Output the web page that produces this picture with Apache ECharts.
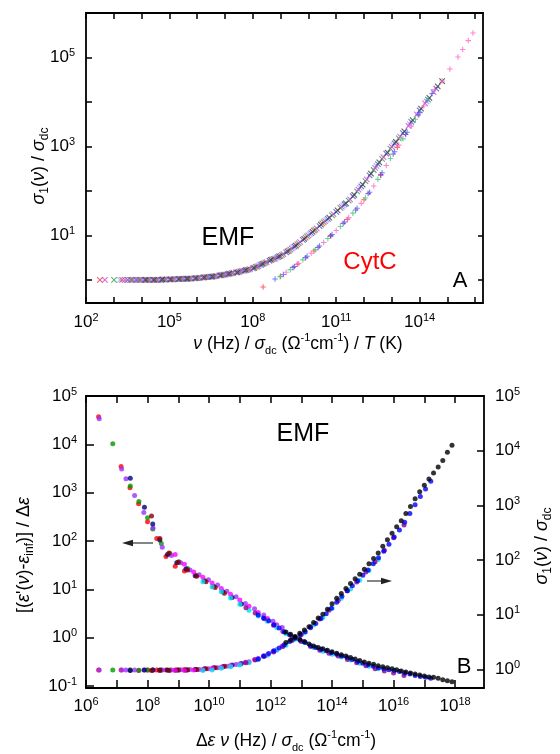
<!DOCTYPE html>
<html><head><meta charset="utf-8">
<script src="https://cdn.jsdelivr.net/npm/echarts@6/dist/echarts.min.js"></script>
<style>html,body{margin:0;padding:0;background:#fff}#c{width:560px;height:754px}</style>
</head><body><div id="c"></div>
<script>
// All values are log10 exponents.
// ---------- tick / label exponents ----------
const topXTicks = [2,3,4,5,6,7,8,9,10,11,12,13,14,15,16];
const topXLabels = [2,5,8,11,14];
const topYTicks = [0,1,2,3,4,5,6];
const topYLabels = [1,3,5];
const botXTicks = [6,7,8,9,10,11,12,13,14,15,16,17,18];
const botXLabels = [6,8,10,12,14,16,18];
const botLeftTicks = [-1,0,1,2,3,4,5];
const botRightTicks = [0,1,2,3,4,5];

// ---------- panel A : EMF (x markers) ----------
const emfRedX = [2.50,3.30,3.60,3.90,4.20,4.50,4.80,5.10,5.40,5.70,6.00,6.30,6.60,6.90,7.20,7.50,7.80,8.10,8.40,8.70,9.00,9.30,9.60,9.90,10.20,10.50];
const emfRedY = [0,0,0,0,0,0,0.005,0.01,0.02,0.03,0.04,0.06,0.08,0.11,0.14,0.18,0.23,0.29,0.37,0.46,0.54,0.66,0.80,0.95,1.11,1.27];
const emfMagX = [2.68,3.40,3.70,4.00,4.30,4.60,4.90,5.20,5.50,5.80,6.10,6.40,6.70,7.00,7.30,7.60,7.90,8.20,8.50,8.80,9.10,9.40,9.70,10.00,10.30,10.60,10.90,11.20,11.50,11.80,12.10,12.40,12.70,13.00,13.30,13.60,13.90,14.20,14.50];
const emfMagY = [0,0,0,0,0,0,0.01,0.015,0.02,0.03,0.045,0.065,0.09,0.12,0.16,0.20,0.24,0.31,0.40,0.48,0.58,0.71,0.85,1.00,1.16,1.32,1.48,1.64,1.81,2.03,2.26,2.52,2.76,2.99,3.22,3.46,3.72,3.97,4.22];
const emfBlueX = [3.50,3.80,4.10,4.40,4.70,5.00,5.30,5.60,5.90,6.20,6.50,6.80,7.10,7.40,7.70,8.00,8.30,8.60,8.90,9.20,9.50,9.80,10.10,10.40,10.70,11.00,11.30,11.60,11.90,12.20,12.50,12.80,13.10,13.40,13.70,14.00,14.30,14.60];
const emfBlueY = [0,0,0,0,0,0.01,0.015,0.025,0.035,0.05,0.07,0.10,0.13,0.17,0.21,0.26,0.34,0.43,0.51,0.62,0.75,0.90,1.05,1.21,1.37,1.53,1.70,1.88,2.10,2.35,2.60,2.84,3.07,3.30,3.55,3.81,4.05,4.30];
const emfGreenX = [3.01,3.65,3.95,4.25,4.55,4.85,5.15,5.45,5.75,6.05,6.35,6.65,6.95,7.25,7.55,7.85,8.15,8.45,8.75,9.05,9.35,9.65,9.95,10.25,10.55,10.85,11.15,11.45,11.75,12.05,12.35,12.65,12.95,13.25];
const emfGreenY = [0,0,0,0,0,0.005,0.01,0.02,0.03,0.045,0.06,0.085,0.115,0.15,0.19,0.23,0.30,0.39,0.47,0.56,0.68,0.82,0.98,1.13,1.30,1.45,1.62,1.78,1.99,2.22,2.47,2.72,2.95,3.18];
const emfBlackX = [4.15,4.45,4.75,5.05,5.35,5.65,5.95,6.25,6.55,6.85,7.15,7.45,7.75,8.05,8.35,8.65,8.95,9.25,9.55,9.85,10.15,10.45,10.75,11.05,11.35,11.65,11.95,12.25,12.55,12.85,13.15,13.45,13.75,14.05,14.35,14.65,14.81];
const emfBlackY = [0,0,0.01,0.01,0.02,0.025,0.04,0.055,0.075,0.10,0.14,0.17,0.22,0.27,0.36,0.45,0.53,0.64,0.77,0.92,1.08,1.24,1.40,1.56,1.72,1.91,2.14,2.39,2.64,2.86,3.10,3.34,3.59,3.85,4.09,4.35,4.47];
const emfLightX = [3.22,3.85,4.70,5.55,6.45,7.05,7.65,8.25,8.85,9.45,10.05,10.65,11.25,11.85,12.45,13.05,13.65,14.25];
const emfLightY = [0,0,0,0.02,0.07,0.125,0.20,0.33,0.50,0.73,1.03,1.35,1.67,2.07,2.56,3.03,3.50,4.01];

// ---------- panel A : CytC (+ markers) ----------
const cytPinkX = [9.20,9.65,10.10,10.55,11.00,11.45,11.90,12.35,12.80,13.25,13.70,14.15,14.55,14.81,15.09,15.38,15.55,15.75,15.92];
const cytPinkY = [0.17,0.37,0.60,0.84,1.11,1.40,1.72,2.11,2.57,3.03,3.46,3.91,4.28,4.47,4.74,5.01,5.18,5.38,5.55];
const cytGreenX = [8.98,9.35,9.80,10.25,10.70,11.15,11.60,12.05,12.50,12.95,13.40,13.85,14.30];
const cytGreenY = [0.07,0.23,0.45,0.68,0.93,1.20,1.50,1.84,2.26,2.73,3.17,3.61,4.05];
const cytBlueX = [8.80,9.10,9.50,9.95,10.40,10.85,11.30,11.75,12.20,12.65,13.10,13.55,14.00,14.45];
const cytBlueY = [0.02,0.12,0.30,0.53,0.76,1.02,1.30,1.61,1.97,2.41,2.88,3.32,3.76,4.19];
const cytPurpleX = [9.45,9.90,10.35,10.80,11.25,11.70,12.15,12.60,13.05,13.50,13.95];
const cytPurpleY = [0.28,0.50,0.73,0.99,1.27,1.57,1.94,2.36,2.83,3.27,3.71];
const cytRedX = [8.37,9.00,9.60,10.20,10.80,11.40,12.00,12.60,13.20];
const cytRedY = [-0.16,0.08,0.35,0.65,0.99,1.36,1.80,2.36,2.98];

// ---------- panel B : x, eps-scaled (left axis), sigma-scaled (right axis) ----------
const bRedX = [6.41,7.14,7.43,7.71,8.00,8.30,8.60,8.90,9.20];
const bRedEps = [4.57,3.54,3.10,2.77,2.40,2.05,1.68,1.48,1.38];
const bRedSig = [-0.01,-0.01,-0.01,-0.02,-0.01,-0.01,-0.01,-0.01,0.00];
const bVioletX = [6.43,7.16,7.30,7.58,7.88,8.18,8.48,8.78,9.08,9.38,9.68,9.98,10.28,10.58,10.88,11.18,11.48,11.78,12.08,12.38];
const bVioletEps = [4.53,3.49,3.29,2.94,2.59,2.27,1.87,1.70,1.55,1.40,1.30,1.20,1.09,0.96,0.85,0.71,0.60,0.47,0.34,0.21];
const bVioletSig = [-0.01,-0.01,-0.01,-0.01,-0.01,-0.01,-0.01,-0.01,-0.005,0.00,0.00,0.01,0.03,0.06,0.09,0.13,0.18,0.25,0.33,0.43];
const bGreenX = [6.87,7.44,7.72,8.00,8.17,8.45,8.73,9.02,9.30,9.58];
const bGreenEps = [4.01,3.14,2.82,2.48,2.25,1.95,1.74,1.57,1.43,1.29];
const bGreenSig = [-0.01,-0.01,-0.015,-0.01,-0.01,-0.01,-0.01,-0.01,-0.005,0.00];
const bNavyX = [7.44,7.90,8.17,8.40,8.65,8.95,9.25,9.55,9.85,10.15,10.45,10.75,11.05];
const bNavyEps = [3.30,2.70,2.35,2.02,1.72,1.55,1.42,1.28,1.18,1.06,0.95,0.83,0.70];
const bNavySig = [-0.02,-0.01,-0.01,-0.01,-0.01,-0.01,-0.01,0.00,0.01,0.03,0.05,0.08,0.11];
const bMaroonX = [8.13,8.40,8.70,9.00,9.30,9.60,9.90,10.20,10.50];
const bMaroonEps = [2.52,2.05,1.75,1.56,1.40,1.27,1.16,1.04,0.92];
const bMaroonSig = [-0.02,-0.02,-0.02,-0.01,-0.01,0.00,0.01,0.03,0.06];
const bMagentaX = [8.90,9.20,9.50,9.80,10.10,10.40,10.70,11.00,11.30,11.60,11.90,12.20];
const bMagentaEps = [1.72,1.52,1.36,1.25,1.13,1.02,0.90,0.78,0.65,0.52,0.40,0.27];
const bMagentaSig = [-0.02,-0.02,-0.01,0.00,0.02,0.04,0.07,0.10,0.14,0.20,0.27,0.36];
const bCyanX = [9.80,10.10,10.40,10.70,11.00,11.30,11.60,11.90,12.20,12.50,12.80,13.10,13.40,13.70,14.00,14.30,14.60,14.90,15.20,15.50];
const bCyanEps = [1.16,1.05,0.95,0.82,0.69,0.57,0.45,0.34,0.21,0.08,-0.02,-0.10,-0.20,-0.28,-0.34,-0.40,-0.46,-0.53,-0.59,-0.64];
const bCyanSig = [-0.02,-0.01,0.02,0.05,0.08,0.12,0.18,0.26,0.35,0.44,0.55,0.67,0.81,0.95,1.12,1.30,1.47,1.63,1.81,2.01];
const bPurpleX = [11.20,11.50,11.80,12.10,12.40,12.70,13.00,13.30,13.60,13.90,14.20,14.50,14.80,15.10,15.40,15.70,16.00,16.34];
const bPurpleEps = [0.62,0.51,0.39,0.26,0.13,0.02,-0.08,-0.18,-0.26,-0.32,-0.38,-0.45,-0.52,-0.58,-0.64,-0.69,-0.73,-0.78];
const bPurpleSig = [0.12,0.17,0.24,0.32,0.42,0.53,0.64,0.78,0.92,1.08,1.26,1.44,1.60,1.78,1.97,2.18,2.41,2.64];
const bBlueX = [11.60,11.77,11.94,12.11,12.28,12.45,12.62,12.79,12.96,13.13,13.30,13.47,13.64,13.81,13.98,14.15,14.32,14.49,14.66,14.83,15.00,15.17,15.34,15.51,15.68,15.85,16.02,16.19,16.36,16.53,16.70,16.87,17.04,17.21];
const bBlueEps = [0.47,0.41,0.35,0.27,0.20,0.12,0.06,0.01,-0.05,-0.10,-0.16,-0.20,-0.24,-0.27,-0.31,-0.34,-0.38,-0.41,-0.45,-0.49,-0.53,-0.56,-0.59,-0.62,-0.64,-0.66,-0.68,-0.70,-0.73,-0.75,-0.78,-0.80,-0.82,-0.84];
const bBlueSig = [0.19,0.24,0.29,0.34,0.39,0.45,0.51,0.57,0.63,0.69,0.76,0.84,0.93,1.02,1.12,1.23,1.34,1.44,1.53,1.62,1.72,1.82,1.93,2.04,2.16,2.29,2.42,2.55,2.69,2.85,3.01,3.16,3.30,3.44];
const bBlackX = [12.50,12.65,12.80,12.95,13.10,13.25,13.40,13.55,13.70,13.85,14.00,14.15,14.30,14.45,14.60,14.75,14.90,15.05,15.20,15.35,15.50,15.65,15.80,15.95,16.10,16.25,16.40,16.55,16.70,16.85,17.00,17.15,17.30,17.45,17.60,17.75,17.90];
const bBlackEps = [0.12,0.07,0.01,-0.03,-0.08,-0.13,-0.17,-0.20,-0.23,-0.26,-0.29,-0.32,-0.35,-0.38,-0.41,-0.44,-0.47,-0.50,-0.53,-0.55,-0.58,-0.60,-0.62,-0.64,-0.66,-0.69,-0.71,-0.73,-0.75,-0.77,-0.79,-0.81,-0.82,-0.84,-0.87,-0.89,-0.91];
const bBlackSig = [0.49,0.54,0.60,0.66,0.72,0.78,0.86,0.94,1.01,1.10,1.20,1.30,1.39,1.48,1.57,1.66,1.74,1.83,1.93,2.03,2.13,2.25,2.37,2.49,2.61,2.72,2.85,2.98,3.12,3.25,3.37,3.48,3.59,3.70,3.82,3.97,4.10];

// ---------- build ----------
const F = '"Liberation Sans", Arial, Helvetica, sans-serif';
function pairs(xs, ys){const n=Math.min(xs.length,ys.length),o=[];for(let i=0;i<n;i++)o.push([xs[i],ys[i]]);return o;}
const CROSS = 'path://M0 0L10 10M10 0L0 10';
const PLUS = 'path://M5 0L5 10M0 5L10 5';

const series = [];
function markSeries(xs, ys, color, sym){
  series.push({type:'scatter', xAxisIndex:0, yAxisIndex:0, data:pairs(xs,ys), symbol:sym, symbolSize:5.5,
    itemStyle:{color:'rgba(0,0,0,0)', borderColor:color, borderWidth:1.1}, silent:true});
}
markSeries(emfLightX, emfLightY, '#8fa8ff', CROSS);
markSeries(emfRedX, emfRedY, '#e0404a', CROSS);
markSeries(emfGreenX, emfGreenY, '#2f9e4f', CROSS);
markSeries(emfMagX, emfMagY, '#d646c8', CROSS);
markSeries(emfBlueX, emfBlueY, '#4a55d0', CROSS);
markSeries(emfBlackX, emfBlackY, '#3a3a3a', CROSS);
markSeries(cytRedX, cytRedY, '#ff4040', PLUS);
markSeries(cytGreenX, cytGreenY, '#44cc77', PLUS);
markSeries(cytBlueX, cytBlueY, '#4466ff', PLUS);
markSeries(cytPurpleX, cytPurpleY, '#7744cc', PLUS);
markSeries(cytPinkX, cytPinkY, '#ff66cc', PLUS);

function dotSeries(xs, eps, sig, color){
  series.push({type:'scatter', xAxisIndex:2, yAxisIndex:2, data:pairs(xs,eps), symbol:'circle', symbolSize:5, itemStyle:{color}, silent:true});
  series.push({type:'scatter', xAxisIndex:2, yAxisIndex:3, data:pairs(xs,sig), symbol:'circle', symbolSize:5, itemStyle:{color}, silent:true});
}
dotSeries(bRedX, bRedEps, bRedSig, '#ff0000');
dotSeries(bGreenX, bGreenEps, bGreenSig, '#009a00');
dotSeries(bVioletX, bVioletEps, bVioletSig, '#9b30ff');
dotSeries(bNavyX, bNavyEps, bNavySig, '#000080');
dotSeries(bMaroonX, bMaroonEps, bMaroonSig, '#8b0000');
dotSeries(bMagentaX, bMagentaEps, bMagentaSig, '#ff00ff');
dotSeries(bCyanX, bCyanEps, bCyanSig, '#00e0e8');
dotSeries(bPurpleX, bPurpleEps, bPurpleSig, '#8b008b');
dotSeries(bBlueX, bBlueEps, bBlueSig, '#0000ff');
dotSeries(bBlackX, bBlackEps, bBlackSig, '#000000');

const labelRich = {
  n:{fontSize:17, lineHeight:20, fontFamily:F, color:'#000'},
  s:{fontSize:11, lineHeight:12, verticalAlign:'top', fontFamily:F, color:'#000'}
};
const pow = v => '{n|10}{s|' + String(v) + '}';
const LINE = {show:true, onZero:false, lineStyle:{color:'#000', width:1.8}};
function axis(o){
  return {type:'value', gridIndex:o.grid, position:o.pos, min:o.min, max:o.max,
    axisLine:LINE, splitLine:{show:false}, minorTick:{show:false},
    axisTick:{show:true, inside:true, length:o.len, customValues:o.ticks, lineStyle:{color:'#000', width:1.5}},
    axisLabel: o.labels ? {show:true, customValues:o.labels, formatter:pow, rich:labelRich, margin:o.margin, color:'#000'} : {show:false}
  };
}
const xAxis = [
  axis({grid:0,pos:'bottom',min:2,max:16.28,len:6,ticks:topXTicks,labels:topXLabels,margin:9}),
  axis({grid:0,pos:'top',min:2,max:16.28,len:6,ticks:topXTicks}),
  axis({grid:1,pos:'bottom',min:6,max:18.94,len:8,ticks:botXTicks,labels:botXLabels,margin:8}),
  axis({grid:1,pos:'top',min:6,max:18.94,len:7,ticks:botXTicks})
];
const yAxis = [
  axis({grid:0,pos:'left',min:-0.52,max:6,len:6,ticks:topYTicks,labels:topYLabels,margin:11}),
  axis({grid:0,pos:'right',min:-0.52,max:6,len:5,ticks:topYTicks}),
  axis({grid:1,pos:'left',min:-1.04,max:5,len:8,ticks:botLeftTicks,labels:botLeftTicks,margin:9}),
  axis({grid:1,pos:'right',min:-0.34,max:5,len:7,ticks:botRightTicks,labels:botRightTicks,margin:11})
];

function rich(size){
  const sub = Math.round(size*0.65);
  return {
    r:{fontSize:size, lineHeight:24, fontFamily:F, fill:'#000'},
    i:{fontSize:size, lineHeight:24, fontFamily:F, fontStyle:'italic', fill:'#000'},
    b:{fontSize:sub, lineHeight:12, fontFamily:F, verticalAlign:'bottom', fill:'#000'},
    t:{fontSize:sub, lineHeight:12, fontFamily:F, verticalAlign:'top', fill:'#000'}
  };
}
function rtext(x, y, text, rot, size){
  return {type:'text', x, y, rotation:rot||0, silent:true,
    style:{text, fontSize:size, fontFamily:F, fill:'#000', align:'center', verticalAlign:'middle', rich:rich(size)}};
}
function plain(x, y, text, size, color){
  return {type:'text', x, y, silent:true, style:{text, fontSize:size, fontFamily:F, fill:color||'#000', align:'center', verticalAlign:'middle'}};
}
function arrow(x1, x2, y){
  const dir = x2 > x1 ? 1 : -1;
  const hx = x2 - dir*11;
  return [
    {type:'line', silent:true, shape:{x1, y1:y, x2:hx, y2:y}, style:{stroke:'#333', lineWidth:1.2}},
    {type:'polygon', silent:true, shape:{points:[[x2,y],[hx,y-3.2],[hx,y+3.2]]}, style:{fill:'#222'}}
  ];
}

const graphic = [
  rtext(298, 344, '{i|ν}{r| (Hz) / }{i|σ}{b|dc}{r| (Ω}{t|-1}{r|cm}{t|-1}{r|) / }{i|T}{r| (K)}', 0, 17.5),
  rtext(39, 166, '{i|σ}{b|1}{r|(}{i|ν}{r|) / }{i|σ}{b|dc}', Math.PI/2, 18),
  rtext(286, 741, '{r|Δ}{i|ε ν}{r| (Hz) / }{i|σ}{b|dc}{r| (Ω}{t|-1}{r|cm}{t|-1}{r|)}', 0, 17.5),
  rtext(24, 555, "{r|[(}{i|ε}{r|'(}{i|ν}{r|)-}{i|ε}{b|inf}{r|)] / Δ}{i|ε}", Math.PI/2, 18),
  rtext(542, 546, '{i|σ}{b|1}{r|(}{i|ν}{r|) / }{i|σ}{b|dc}', Math.PI/2, 18),
  plain(228, 238, 'EMF', 25),
  plain(370, 262, 'CytC', 24, '#ff0000'),
  plain(460, 281, 'A', 22),
  plain(303, 434, 'EMF', 25),
  plain(464, 667, 'B', 22),
  ...arrow(153, 122, 543),
  ...arrow(367, 392, 581)
];

const chart = echarts.init(document.getElementById('c'), null, {renderer:'canvas'});
chart.setOption({
  animation:false,
  backgroundColor:'#fff',
  grid:[
    {left:86, top:13, width:397, height:290, outerBoundsMode:'none', containLabel:false},
    {left:86, top:396, width:398, height:292, outerBoundsMode:'none', containLabel:false}
  ],
  xAxis, yAxis, series, graphic
});
</script></body></html>
